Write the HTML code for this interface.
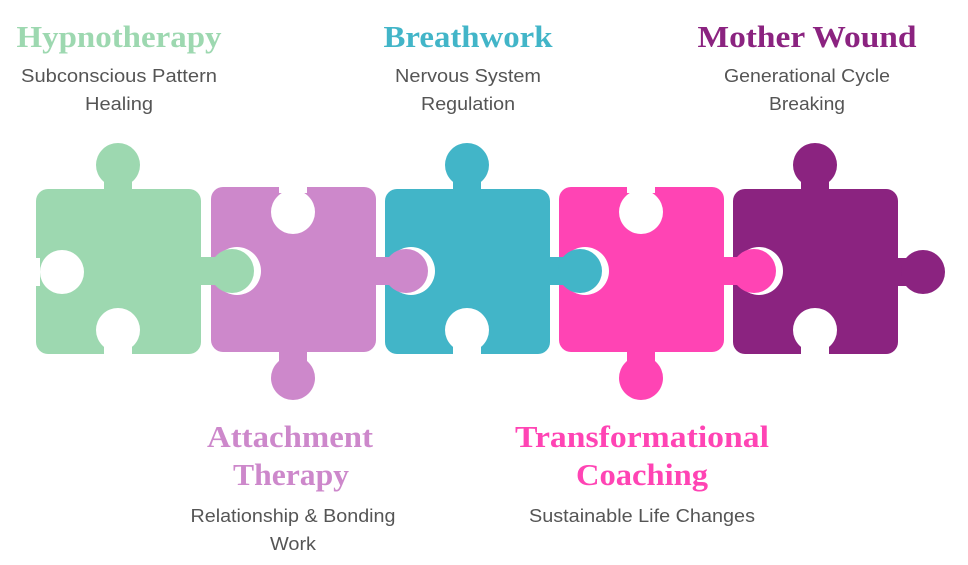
<!DOCTYPE html>
<html><head><meta charset="utf-8"><style>
html,body{margin:0;padding:0;background:#fff;}
svg{display:block;}
.t{font-family:"Liberation Serif",serif;font-weight:bold;font-size:31px;text-anchor:middle;}
.s{font-family:"Liberation Sans",sans-serif;font-size:18px;fill:#555;text-anchor:middle;}
</style></head><body>
<svg width="968" height="565" viewBox="0 0 968 565" xmlns="http://www.w3.org/2000/svg">
<rect x="36" y="189" width="165" height="165" rx="12" fill="#9dd8b0"/>
<rect x="211" y="187" width="165" height="165" rx="12" fill="#cd88cb"/>
<rect x="385" y="189" width="165" height="165" rx="12" fill="#42b5c8"/>
<rect x="559" y="187" width="165" height="165" rx="12" fill="#ff44b4"/>
<rect x="733" y="189" width="165" height="165" rx="12" fill="#8b2380"/>
<g fill="#9dd8b0"><circle cx="118" cy="165" r="22"/><rect x="104" y="170" width="28" height="22"/></g>
<g fill="#42b5c8"><circle cx="467" cy="165" r="22"/><rect x="453" y="170" width="28" height="22"/></g>
<g fill="#8b2380"><circle cx="815" cy="165" r="22"/><rect x="801" y="170" width="28" height="22"/></g>
<g fill="#cd88cb"><circle cx="293" cy="378" r="22"/><rect x="279" y="348" width="28" height="22"/></g>
<g fill="#ff44b4"><circle cx="641" cy="378" r="22"/><rect x="627" y="348" width="28" height="22"/></g>
<g fill="#fff">
<circle cx="62" cy="272" r="22"/><rect x="30" y="258" width="10" height="28"/>
<rect x="104" y="340" width="28" height="20"/><circle cx="118" cy="330" r="22"/>
<rect x="279" y="181" width="28" height="12"/><circle cx="293" cy="212" r="22"/>
<rect x="453" y="340" width="28" height="20"/><circle cx="467" cy="330" r="22"/>
<rect x="627" y="181" width="28" height="12"/><circle cx="641" cy="212" r="22"/>
<rect x="801" y="340" width="28" height="20"/><circle cx="815" cy="330" r="22"/>
<circle cx="237" cy="271" r="24"/>
<circle cx="411" cy="271" r="24"/>
<circle cx="585" cy="271" r="24"/>
<circle cx="759" cy="271" r="24"/>
</g>
<g fill="#9dd8b0"><rect x="198" y="257" width="30" height="28"/><circle cx="232" cy="271" r="22"/></g>
<g fill="#cd88cb"><rect x="373" y="257" width="30" height="28"/><circle cx="406" cy="271" r="22"/></g>
<g fill="#42b5c8"><rect x="547" y="257" width="30" height="28"/><circle cx="580" cy="271" r="22"/></g>
<g fill="#ff44b4"><rect x="721" y="257" width="30" height="28"/><circle cx="754" cy="271" r="22"/></g>
<g fill="#8b2380"><rect x="895" y="258" width="12" height="28"/><circle cx="923" cy="272" r="22"/></g>
<text class="t" x="119" y="47" fill="#9dd8b0" textLength="205" lengthAdjust="spacingAndGlyphs">Hypnotherapy</text>
<text class="s" x="119" y="82" textLength="196" lengthAdjust="spacingAndGlyphs">Subconscious Pattern</text>
<text class="s" x="119" y="110" textLength="68" lengthAdjust="spacingAndGlyphs">Healing</text>
<text class="t" x="468" y="47" fill="#42b5c8" textLength="169" lengthAdjust="spacingAndGlyphs">Breathwork</text>
<text class="s" x="468" y="82" textLength="146" lengthAdjust="spacingAndGlyphs">Nervous System</text>
<text class="s" x="468" y="110" textLength="94" lengthAdjust="spacingAndGlyphs">Regulation</text>
<text class="t" x="807" y="47" fill="#8b2380" textLength="219" lengthAdjust="spacingAndGlyphs">Mother Wound</text>
<text class="s" x="807" y="82" textLength="166" lengthAdjust="spacingAndGlyphs">Generational Cycle</text>
<text class="s" x="807" y="110" textLength="76" lengthAdjust="spacingAndGlyphs">Breaking</text>
<text class="t" x="290" y="447" fill="#cd88cb" textLength="166" lengthAdjust="spacingAndGlyphs">Attachment</text>
<text class="t" x="291" y="485" fill="#cd88cb" textLength="116" lengthAdjust="spacingAndGlyphs">Therapy</text>
<text class="s" x="293" y="522" textLength="205" lengthAdjust="spacingAndGlyphs">Relationship &amp; Bonding</text>
<text class="s" x="293" y="550" textLength="46" lengthAdjust="spacingAndGlyphs">Work</text>
<text class="t" x="642" y="447" fill="#ff44b4" textLength="254" lengthAdjust="spacingAndGlyphs">Transformational</text>
<text class="t" x="642" y="485" fill="#ff44b4" textLength="132" lengthAdjust="spacingAndGlyphs">Coaching</text>
<text class="s" x="642" y="522" textLength="226" lengthAdjust="spacingAndGlyphs">Sustainable Life Changes</text>
</svg>
</body></html>
